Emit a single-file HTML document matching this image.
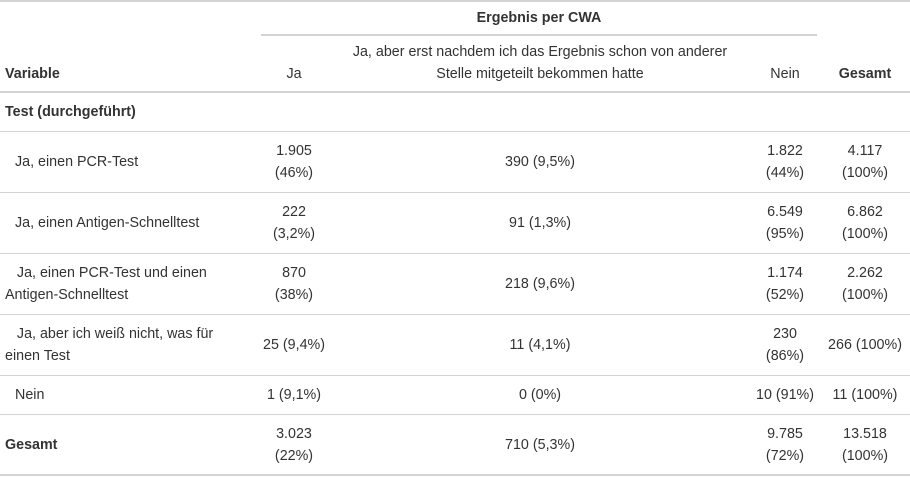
<!DOCTYPE html>
<html><head><meta charset="utf-8"><style>
body{margin:0;width:910px;height:477px;background:#fff;position:relative;overflow:hidden;font-family:"Liberation Sans",sans-serif;font-size:14.3px;color:#333;}
.t{position:absolute;white-space:nowrap;line-height:22px;}
.c{transform:translateX(-50%);text-align:center;}
.b{font-weight:bold;}
.l{position:absolute;left:0;width:910px;background:#d3d3d3;}
</style></head><body>
<div class="l" style="top:0;height:2px"></div>
<div class="l" style="top:34px;height:2px;left:261px;width:556px"></div>
<div class="l" style="top:91px;height:2px"></div>
<div class="l" style="top:131px;height:1px"></div>
<div class="l" style="top:192px;height:1px"></div>
<div class="l" style="top:253px;height:1px"></div>
<div class="l" style="top:314px;height:1px"></div>
<div class="l" style="top:375px;height:1px"></div>
<div class="l" style="top:414px;height:1px"></div>
<div class="l" style="top:474px;height:2px"></div>

<div class="t c b" style="left:539px;top:7px">Ergebnis per CWA</div>
<div class="t b" style="left:5px;top:63px">Variable</div>
<div class="t c" style="left:294px;top:63px">Ja</div>
<div class="t c" style="left:540px;top:41px">Ja, aber erst nachdem ich das Ergebnis schon von anderer<br>Stelle mitgeteilt bekommen hatte</div>
<div class="t c" style="left:785px;top:63px">Nein</div>
<div class="t c b" style="left:865px;top:63px">Gesamt</div>

<div class="t b" style="left:5px;top:101px">Test (durchgeführt)</div>

<div class="t" style="left:15px;top:151px">Ja, einen PCR-Test</div>
<div class="t c" style="left:294px;top:140px">1.905<br>(46%)</div>
<div class="t c" style="left:540px;top:151px">390 (9,5%)</div>
<div class="t c" style="left:785px;top:140px">1.822<br>(44%)</div>
<div class="t c" style="left:865px;top:140px">4.117<br>(100%)</div>

<div class="t" style="left:15px;top:212px">Ja, einen Antigen-Schnelltest</div>
<div class="t c" style="left:294px;top:201px">222<br>(3,2%)</div>
<div class="t c" style="left:540px;top:212px">91 (1,3%)</div>
<div class="t c" style="left:785px;top:201px">6.549<br>(95%)</div>
<div class="t c" style="left:865px;top:201px">6.862<br>(100%)</div>

<div class="t" style="left:5px;top:262px">&nbsp;&nbsp;&nbsp;Ja, einen PCR-Test und einen<br>Antigen-Schnelltest</div>
<div class="t c" style="left:294px;top:262px">870<br>(38%)</div>
<div class="t c" style="left:540px;top:273px">218 (9,6%)</div>
<div class="t c" style="left:785px;top:262px">1.174<br>(52%)</div>
<div class="t c" style="left:865px;top:262px">2.262<br>(100%)</div>

<div class="t" style="left:5px;top:323px">&nbsp;&nbsp;&nbsp;Ja, aber ich weiß nicht, was für<br>einen Test</div>
<div class="t c" style="left:294px;top:334px">25 (9,4%)</div>
<div class="t c" style="left:540px;top:334px">11 (4,1%)</div>
<div class="t c" style="left:785px;top:323px">230<br>(86%)</div>
<div class="t c" style="left:865px;top:334px">266 (100%)</div>

<div class="t" style="left:15px;top:384px">Nein</div>
<div class="t c" style="left:294px;top:384px">1 (9,1%)</div>
<div class="t c" style="left:540px;top:384px">0 (0%)</div>
<div class="t c" style="left:785px;top:384px">10 (91%)</div>
<div class="t c" style="left:865px;top:384px">11 (100%)</div>

<div class="t b" style="left:5px;top:434px">Gesamt</div>
<div class="t c" style="left:294px;top:423px">3.023<br>(22%)</div>
<div class="t c" style="left:540px;top:434px">710 (5,3%)</div>
<div class="t c" style="left:785px;top:423px">9.785<br>(72%)</div>
<div class="t c" style="left:865px;top:423px">13.518<br>(100%)</div>
</body></html>
